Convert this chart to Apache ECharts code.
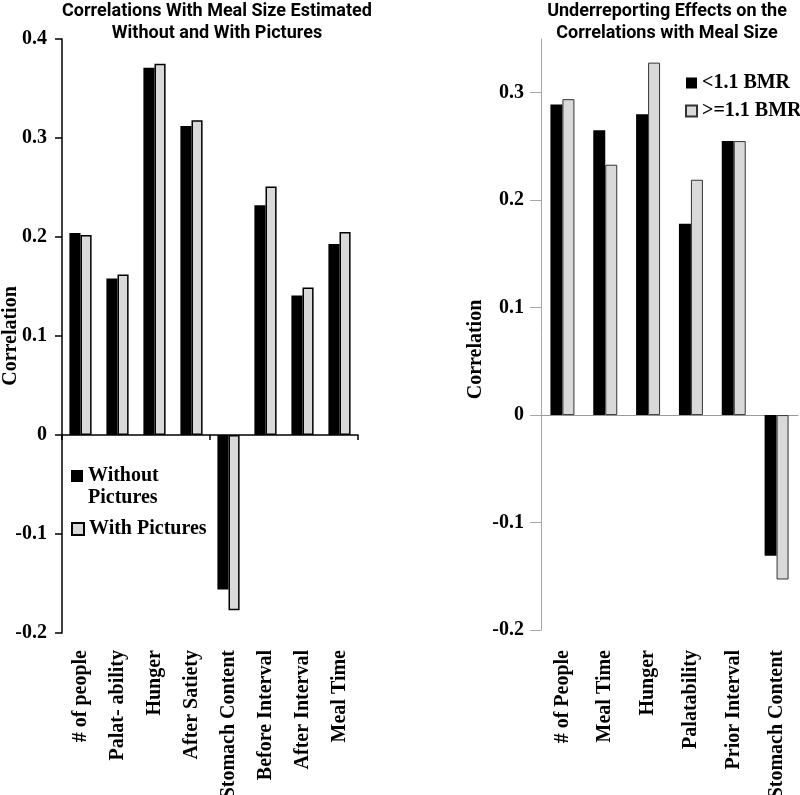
<!DOCTYPE html>
<html>
<head>
<meta charset="utf-8">
<script src="https://cdn.jsdelivr.net/npm/echarts@6/dist/echarts.min.js"></script>
<style>html,body{margin:0;padding:0;background:#fff}#c{width:800px;height:795px}</style>
</head>
<body>
<div id="c"></div>
<script>
// ---- data ----
const leftCategories = ['# of people', 'Palat- ability', 'Hunger', 'After Satiety', 'Stomach Content', 'Before Interval', 'After Interval', 'Meal Time'];
const withoutPictures = [0.204, 0.158, 0.371, 0.312, -0.156, 0.232, 0.141, 0.193];
const withPictures = [0.202, 0.162, 0.375, 0.318, -0.177, 0.251, 0.149, 0.205];
const rightCategories = ['# of People', 'Meal Time', 'Hunger', 'Palatability', 'Prior Interval', 'Stomach Content'];
const lowBMR = [0.289, 0.265, 0.280, 0.178, 0.255, -0.131];
const highBMR = [0.294, 0.233, 0.328, 0.219, 0.255, -0.153];
const rightTicks = [-0.2, -0.1, 0, 0.1, 0.2, 0.3];

const serif = '"Liberation Serif", "Times New Roman", serif';
const sans = 'Roboto, "Open Sans", sans-serif';
const tickFmt = v => (Math.round(v * 10) / 10).toString();

const chart = echarts.init(document.getElementById('c'));
chart.setOption({
  animation: false,
  backgroundColor: '#fff',
  title: [
    { text: 'Correlations With Meal Size Estimated\nWithout and With Pictures', left: 217, top: 0, textAlign: 'center', padding: 0,
      textStyle: { fontFamily: sans, fontWeight: 'bold', fontSize: 18, lineHeight: 22, color: '#000' } },
    { text: 'Underreporting Effects on the\nCorrelations with Meal Size', left: 667, top: 0, textAlign: 'center', padding: 0,
      textStyle: { fontFamily: sans, fontWeight: 'bold', fontSize: 18, lineHeight: 22, color: '#000' } }
  ],
  legend: [
    { data: ['Without Pictures'], left: 71, top: 465, padding: 0, icon: 'rect', itemWidth: 12, itemHeight: 12,
      formatter: () => 'Without', selectedMode: false,
      textStyle: { fontFamily: serif, fontWeight: 'bold', fontSize: 20, lineHeight: 22, color: '#000' } },
    { data: ['With Pictures'], left: 71, top: 518, padding: 0, icon: 'rect', itemWidth: 12, itemHeight: 12, selectedMode: false,
      textStyle: { fontFamily: serif, fontWeight: 'bold', fontSize: 20, lineHeight: 22, color: '#000' } },
    { data: ['<1.1 BMR', '>=1.1 BMR'], left: 685, top: 72, padding: 0, orient: 'vertical', itemGap: 6, icon: 'rect', itemWidth: 11, itemHeight: 11, selectedMode: false,
      textStyle: { fontFamily: serif, fontWeight: 'bold', fontSize: 20, lineHeight: 22, color: '#000' } }
  ],
  graphic: [
    { type: 'text', left: 88, top: 488, style: { text: 'Pictures', fontFamily: serif, fontWeight: 'bold', fontSize: 20, fill: '#000' } }
  ],
  grid: [
    { left: 62, top: 39, width: 296, height: 594, containLabel: false, outerBoundsMode: 'none' },
    { left: 541, top: 39, width: 257, height: 591, containLabel: false, outerBoundsMode: 'none' }
  ],
  xAxis: [
    { type: 'category', gridIndex: 0, data: leftCategories, position: 'bottom',
      axisLine: { onZero: true, lineStyle: { color: '#000', width: 1.5 } },
      axisTick: { show: true, length: 5, lineStyle: { color: '#000', width: 1.5 } },
      axisLabel: { show: false } },
    { type: 'category', gridIndex: 0, data: leftCategories, position: 'bottom',
      axisLine: { show: false, onZero: false }, axisTick: { show: false },
      axisLabel: { show: true, rotate: 90, margin: 17, interval: 0, fontFamily: serif, fontWeight: 'bold', fontSize: 20, color: '#000' } },
    { type: 'category', gridIndex: 1, data: rightCategories, position: 'bottom',
      axisLine: { onZero: true, lineStyle: { color: '#9a9a9a', width: 1 } },
      axisTick: { show: false },
      axisLabel: { show: false } },
    { type: 'category', gridIndex: 1, data: rightCategories, position: 'bottom',
      axisLine: { show: false, onZero: false }, axisTick: { show: false },
      axisLabel: { show: true, rotate: 90, margin: 20, interval: 0, fontFamily: serif, fontWeight: 'bold', fontSize: 20, color: '#000' } }
  ],
  yAxis: [
    { type: 'value', gridIndex: 0, min: -0.2, max: 0.4, interval: 0.1,
      name: 'Correlation', nameLocation: 'middle', nameGap: 41, nameMoveOverlap: false,
      nameTextStyle: { fontFamily: serif, fontWeight: 'bold', fontSize: 20, color: '#000' },
      splitLine: { show: false },
      axisLine: { show: true, lineStyle: { color: '#000', width: 1.5 } },
      axisTick: { show: true, length: 7, lineStyle: { color: '#000', width: 1.5 } },
      axisLabel: { margin: 15, formatter: tickFmt, fontFamily: serif, fontWeight: 'bold', fontSize: 20, color: '#000' } },
    { type: 'value', gridIndex: 1, min: -0.2, max: 0.35, interval: 0.1,
      name: 'Correlation', nameLocation: 'middle', nameGap: 55, nameMoveOverlap: false,
      nameTextStyle: { fontFamily: serif, fontWeight: 'bold', fontSize: 20, color: '#000', padding: [0, 30, 0, 0] },
      splitLine: { show: false },
      axisLine: { show: true, lineStyle: { color: '#a6a6a6', width: 1 } },
      axisTick: { show: true, length: 11, customValues: rightTicks, lineStyle: { color: '#a6a6a6', width: 1 } },
      axisLabel: { margin: 17, customValues: rightTicks, formatter: tickFmt, fontFamily: serif, fontWeight: 'bold', fontSize: 20, color: '#000' } }
  ],
  series: [
    { name: 'Without Pictures', type: 'bar', xAxisIndex: 0, yAxisIndex: 0, data: withoutPictures, barGap: '0%', barCategoryGap: '40%',
      itemStyle: { color: '#000' } },
    { name: 'With Pictures', type: 'bar', xAxisIndex: 0, yAxisIndex: 0, data: withPictures, barGap: '0%', barCategoryGap: '40%',
      itemStyle: { color: '#d9d9d9', borderColor: '#000', borderWidth: 1.5 } },
    { name: '<1.1 BMR', type: 'bar', xAxisIndex: 2, yAxisIndex: 1, data: lowBMR, barGap: '0%', barCategoryGap: '44%',
      itemStyle: { color: '#000' } },
    { name: '>=1.1 BMR', type: 'bar', xAxisIndex: 2, yAxisIndex: 1, data: highBMR, barGap: '0%', barCategoryGap: '44%',
      itemStyle: { color: '#d9d9d9', borderColor: '#333', borderWidth: 1 } }
  ]
});
</script>
</body>
</html>
